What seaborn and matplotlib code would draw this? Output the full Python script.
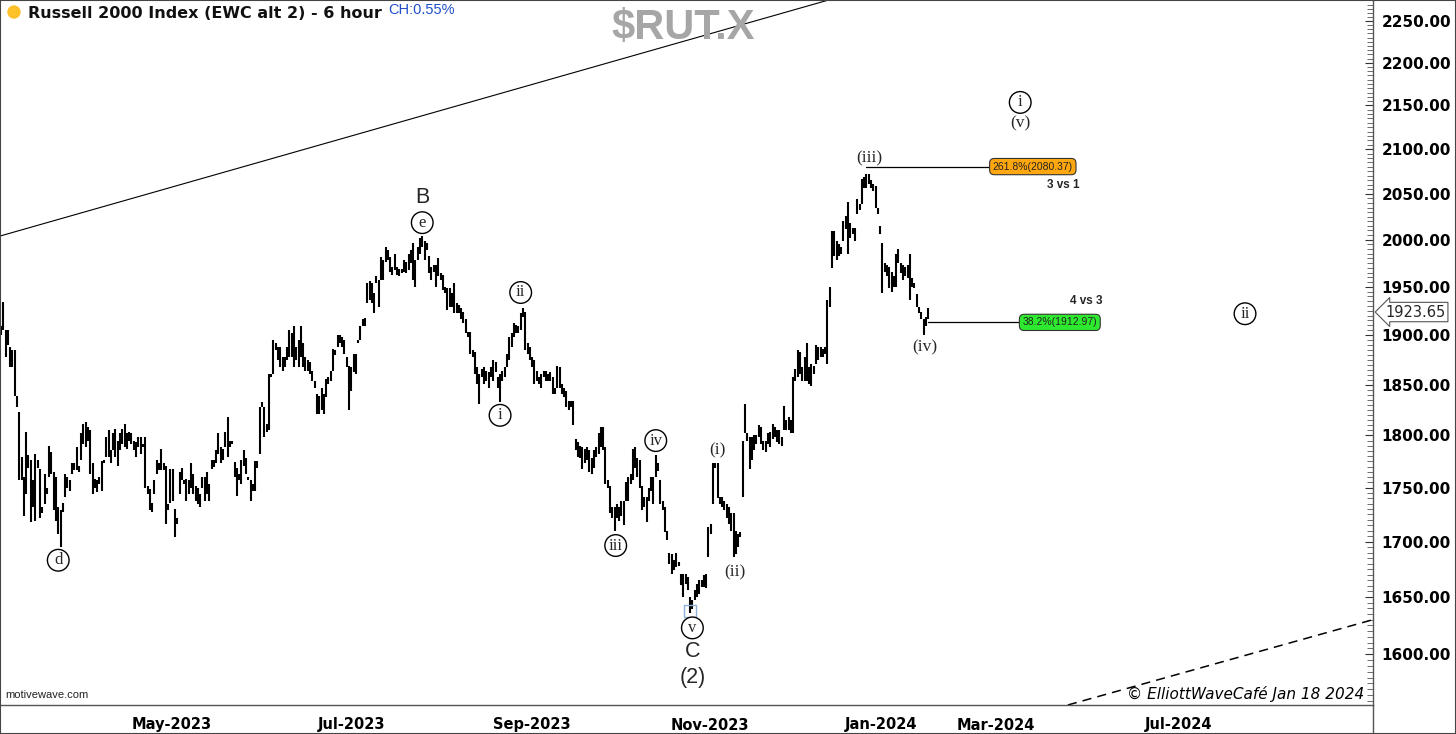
import numpy as np
import pandas as pd
import matplotlib
matplotlib.use("Agg")
import matplotlib.pyplot as plt
import matplotlib.ticker as mticker
from matplotlib.patches import Rectangle, Ellipse
import seaborn as sns

sns.set_theme(style="white")
plt.rcParams['font.family'] = ['DejaVu Sans']

# 6 hour bars (high / low), oldest first
highs = [
    # Mar - Jun 2023
    1909, 1934, 1905, 1905, 1888, 1885, 1885, 1839, 1823, 1779,
    1760, 1803, 1781, 1776, 1757, 1782, 1776, 1768, 1732, 1763,
    1750, 1790, 1784, 1765, 1760, 1732, 1729, 1736, 1763, 1760,
    1757, 1773, 1773, 1789, 1771, 1802, 1811, 1813, 1808, 1805,
    1773, 1758, 1757, 1760, 1775, 1776, 1798, 1805, 1786, 1802,
    1806, 1795, 1802, 1806, 1811, 1802, 1803, 1802, 1795, 1794,
    1798, 1798, 1792, 1798, 1752, 1749, 1736, 1757, 1776, 1773,
    1787, 1773, 1771, 1735, 1768, 1768, 1730, 1722, 1765, 1769,
    1757, 1758, 1757, 1773, 1763, 1752, 1750, 1744, 1760, 1760,
    1765, 1754, 1776, 1776, 1786, 1802, 1789, 1787, 1803, 1818,
    1795, 1795, 1774, 1769, 1763, 1776, 1786, 1778, 1760, 1757,
    1754, 1775, 1775, 1828, 1833, 1828, 1811, 1861, 1861, 1895,
    1892, 1888, 1888, 1878, 1878, 1888, 1905,
    # Jun - Sep 2023
    1902, 1909, 1888, 1895, 1909, 1892, 1878, 1875, 1873, 1864,
    1854, 1841, 1839, 1847, 1841, 1856, 1858, 1864, 1886, 1885,
    1900, 1900, 1898, 1895, 1878, 1869, 1868, 1881, 1881, 1895,
    1909, 1916, 1918, 1954, 1956, 1954, 1943, 1961, 1957, 1982,
    1978, 1992, 1989, 1982, 1971, 1985, 1971, 1969, 1969, 1978,
    1976, 1985, 1989, 1996, 1978, 1992, 2002, 2004, 1999, 1997,
    1983, 1971, 1973, 1973, 1980, 1964, 1962, 1950, 1949, 1949,
    1943, 1954, 1933, 1931, 1928, 1924, 1916, 1903, 1903, 1885,
    1883, 1868, 1861, 1866, 1868, 1864, 1863, 1868, 1875, 1873,
    1858, 1861, 1864, 1868, 1881, 1898, 1902, 1912, 1910, 1909,
    1923, 1928, 1924, 1892, 1888, 1878, 1875, 1864, 1858, 1861,
    1864, 1864, 1861, 1863, 1858, 1847, 1869, 1868, 1851, 1847,
    1844, 1834,
    # Sep - Nov 2023
    1834, 1834, 1797, 1794, 1790, 1789, 1787, 1789, 1786, 1778,
    1786, 1789, 1802, 1808, 1808, 1789, 1757, 1752, 1732, 1732,
    1735, 1732, 1738, 1738, 1755, 1760, 1763, 1787, 1789, 1778,
    1776, 1752, 1741, 1741, 1750, 1760, 1760, 1781, 1773, 1757,
    1738, 1732, 1710, 1690, 1689, 1683, 1690, 1681, 1671, 1671,
    1671, 1668, 1650, 1647, 1656, 1662, 1665, 1665, 1670, 1671,
    1713, 1716, 1773, 1773, 1773, 1741, 1741, 1738, 1735, 1732,
    1726, 1726, 1710, 1707, 1709,
    # Nov - Dec 2023
    1795, 1831, 1802, 1798, 1798, 1800, 1800, 1810, 1808, 1795,
    1795, 1802, 1803, 1811, 1808, 1805, 1805, 1798, 1829, 1815,
    1818, 1815, 1858, 1866, 1885, 1883, 1868, 1878, 1892, 1868,
    1871, 1869, 1890, 1888, 1888, 1886, 1888, 1936, 1950,
    # Dec 2023 - Jan 2024
    2009, 2009, 1999, 1995, 1992, 2020, 2026, 2041, 2018, 2013,
    2013, 2044, 2039, 2067, 2069, 2072, 2072, 2065, 2061, 2059,
    2035, 2015, 1996, 1975, 1973, 1971, 1966, 1961, 1985, 1990,
    1975, 1973, 1971, 1973, 1985, 1959, 1954, 1942, 1929, 1924,
    1916, 1919, 1928,
]
lows = [
    1900, 1905, 1878, 1890, 1868, 1868, 1839, 1828, 1757, 1757,
    1724, 1744, 1769, 1718, 1732, 1719, 1769, 1722, 1726, 1735,
    1744, 1760, 1763, 1729, 1719, 1707, 1695, 1727, 1741, 1750,
    1747, 1763, 1767, 1767, 1765, 1776, 1792, 1789, 1795, 1763,
    1744, 1750, 1746, 1754, 1747, 1773, 1779, 1779, 1773, 1786,
    1779, 1771, 1786, 1792, 1789, 1787, 1795, 1792, 1786, 1779,
    1789, 1782, 1789, 1750, 1744, 1729, 1727, 1744, 1763, 1767,
    1767, 1767, 1716, 1729, 1736, 1738, 1704, 1716, 1744, 1757,
    1754, 1738, 1744, 1750, 1744, 1738, 1735, 1732, 1750, 1738,
    1744, 1738, 1768, 1770, 1773, 1782, 1773, 1776, 1789, 1779,
    1789, 1792, 1760, 1742, 1757, 1754, 1771, 1763, 1757, 1738,
    1747, 1747, 1769, 1782, 1828, 1798, 1803, 1805, 1858, 1861,
    1885, 1875, 1868, 1864, 1868, 1875, 1878,
    1878, 1868, 1875, 1868, 1878, 1868, 1864, 1864, 1861, 1854,
    1847, 1821, 1821, 1825, 1821, 1838, 1851, 1854, 1864, 1880,
    1888, 1892, 1888, 1881, 1868, 1825, 1844, 1863, 1861, 1892,
    1895, 1909, 1909, 1933, 1936, 1933, 1923, 1954, 1929, 1957,
    1957, 1976, 1978, 1966, 1962, 1968, 1962, 1961, 1964, 1966,
    1964, 1968, 1975, 1957, 1950, 1978, 1985, 1992, 1978, 1989,
    1964, 1957, 1966, 1950, 1961, 1957, 1947, 1943, 1926, 1929,
    1929, 1923, 1923, 1923, 1916, 1912, 1902, 1898, 1881, 1878,
    1861, 1851, 1831, 1858, 1851, 1854, 1847, 1858, 1854, 1863,
    1847, 1833, 1854, 1858, 1868, 1875, 1888, 1898, 1902, 1902,
    1905, 1919, 1885, 1881, 1875, 1868, 1851, 1854, 1851, 1847,
    1858, 1854, 1854, 1854, 1841, 1841, 1847, 1847, 1841, 1838,
    1828, 1825,
    1828, 1810, 1786, 1779, 1778, 1768, 1773, 1776, 1765, 1763,
    1769, 1779, 1782, 1789, 1786, 1754, 1750, 1726, 1722, 1710,
    1722, 1719, 1724, 1715, 1738, 1738, 1754, 1757, 1769, 1760,
    1750, 1729, 1732, 1718, 1738, 1747, 1735, 1760, 1766, 1735,
    1729, 1709, 1701, 1680, 1671, 1674, 1677, 1678, 1661, 1650,
    1662, 1656, 1636, 1639, 1647, 1650, 1653, 1659, 1659, 1658,
    1686, 1707, 1735, 1769, 1740, 1735, 1732, 1729, 1722, 1716,
    1710, 1686, 1689, 1695, 1704,
    1741, 1802, 1795, 1768, 1776, 1786, 1792, 1798, 1792, 1786,
    1784, 1792, 1789, 1797, 1798, 1794, 1792, 1790, 1805, 1805,
    1805, 1802, 1802, 1854, 1858, 1861, 1854, 1854, 1854, 1851,
    1849, 1861, 1871, 1875, 1878, 1878, 1881, 1871, 1929,
    1970, 1983, 1978, 1983, 1985, 1999, 2012, 1985, 2002, 2006,
    1999, 2028, 2032, 2039, 2057, 2057, 2061, 2057, 2053, 2035,
    2028, 2006, 1943, 1966, 1961, 1949, 1945, 1950, 1950, 1975,
    1964, 1957, 1961, 1959, 1936, 1950, 1949, 1929, 1923, 1916,
    1900, 1909, 1916,
]
last_close = 1923.65

month_labels = ["May-2023", "Jul-2023", "Sep-2023", "Nov-2023",
                "Jan-2024", "Mar-2024", "Jul-2024", ""]
month_bars = [74.7, 153.3, 231.9, 309.6, 384.3, 434.5, 514.4, 574.2]

fib_levels = [2080.37, 1912.97]
fib_texts = ["261.8%(2080.37)", "38.2%(1912.97)"]
fib_notes = ["3 vs 1", "4 vs 3"]
fib_colors = ["#FFA70F", "#2EEA2E"]

bars = pd.DataFrame({"bar": np.arange(len(highs)), "high": highs, "low": lows})

fig = plt.figure(figsize=(14.56, 7.34), dpi=100)
ax = fig.add_axes([0, 29 / 734, 1373 / 1456, 705 / 734])
ax.set_facecolor("white")

# trend channel lines
sns.lineplot(x=[-0.44, 362], y=[2004, 2276], ax=ax, color="black", lw=0.8)
sns.lineplot(x=[466, 599.3], y=[1556.8, 1630], ax=ax, color="black", lw=1.1,
             linestyle=(0, (6, 4)))

# price bars
ax.vlines(bars["bar"], bars["low"], bars["high"], color="black", lw=1.5)

# low highlight
lo_bar = bars["low"].idxmin()
ax.plot([lo_bar], [bars["low"].min() + 2], marker="s", ms=9, mfc="none",
        mec="#8fb0d6", mew=1.0)

# fibonacci targets
hi_bar = bars["high"].idxmax()
fib_start = [hi_bar, len(bars) - 1]
fib_box = [432, 445]
for lvl, txt, col, x0, xb in zip(fib_levels, fib_texts, fib_colors,
                                 fib_start, fib_box):
    ax.plot([x0, xb], [lvl, lvl], color="black", lw=0.9)
    ax.text(xb + 1.2, lvl, txt, ha="left", va="center", fontsize=7.5,
            family="Liberation Sans", color="#222",
            bbox=dict(boxstyle="round,pad=0.3,rounding_size=0.45",
                      fc=col, ec="#333", lw=0.8))
ax.text(471.3, 2060, fib_notes[0], ha="right", va="center", fontsize=8.5,
        fontweight="bold", family="Liberation Sans")
ax.text(481.3, 1935.4, fib_notes[1], ha="right", va="center", fontsize=8.5,
        fontweight="bold", family="Liberation Sans")

# wave labels, placed at the bars they mark
circled = [("d", 25, 1683), ("e", 184, 2018.5), ("ii", 227, 1944),
           ("i", 218, 1819.6), ("iv", 286, 1795), ("iii", 268.5, 1696.4),
           ("v", 302, 1622.8), ("i", 445.2, 2153.5), ("ii", 543.4, 1921.9)]
for s, x, y in circled:
    ax.text(x, y, s, ha="center", va="center", fontsize=12,
            family="Liberation Serif",
            bbox=dict(boxstyle="circle,pad=0.17", fc="white", ec="black", lw=1))
paren = [("(i)", 313, 1785.6), ("(ii)", 320.5, 1672.3),
         ("(iii)", 379.5, 2089.8), ("(iv)", 403.5, 1887.8),
         ("(v)", 445.2, 2129.5)]
for s, x, y in paren:
    ax.text(x, y, s, ha="center", va="center", fontsize=12.5,
            family="Liberation Serif")
for s, x, y in [("B", 184, 2046), ("C", 302, 1602.6), ("(2)", 302, 1580.4)]:
    ax.text(x, y, s, ha="center", va="center", fontsize=15.5,
            family="Liberation Sans")

# axes
ax.set_yscale("log")
ax.set_ylim(1556.8, 2275.6)
ax.set_xlim(-0.44, 599.3)
ax.yaxis.tick_right()
ax.yaxis.set_major_locator(mticker.FixedLocator(np.arange(1600, 2251, 50)))
ax.yaxis.set_minor_locator(mticker.FixedLocator(np.arange(1560, 2276, 5)))
ax.yaxis.set_major_formatter(mticker.FormatStrFormatter("%.2f"))
ax.yaxis.set_minor_formatter(mticker.NullFormatter())
ax.tick_params(axis="y", which="major", direction="in", length=6, width=0.8,
               pad=6, labelsize=11, colors="#333", labelcolor="black")
ax.tick_params(axis="y", which="minor", direction="in", length=4, width=0.6,
               colors="#555")
for lab in ax.get_yticklabels():
    lab.set_fontweight("bold")
ax.set_xticks(month_bars)
ax.set_xticklabels(month_labels, fontsize=10.5, fontweight="bold")
ax.tick_params(axis="x", direction="out", length=6, width=0.8, pad=3,
               colors="#444", labelcolor="black")
for sp in ["left", "top"]:
    ax.spines[sp].set_visible(False)
for sp in ["right", "bottom"]:
    ax.spines[sp].set_color("#555")
    ax.spines[sp].set_linewidth(1)

# last price tag
ax.annotate(f"{last_close:.2f}", xy=(1.0, last_close),
            xycoords=("axes fraction", "data"), xytext=(9, 0),
            textcoords="offset points", ha="left", va="center", fontsize=10.5,
            bbox=dict(boxstyle="larrow,pad=0.15", fc="white", ec="#555", lw=0.8),
            annotation_clip=False)

# headers and credits
fig.add_artist(Ellipse((14 / 1456, 1 - 12 / 734), 12 / 1456, 12 / 734,
                       transform=fig.transFigure, color="#FDC12A"))
fig.text(28 / 1456, 1 - 14 / 734, "Russell 2000 Index (EWC alt 2) - 6 hour",
         fontsize=11.5, fontweight="bold", va="center", ha="left", color="#111")
fig.text(388 / 1456, 1 - 10 / 734, "CH:0.55%", fontsize=10.5,
         family="Liberation Sans", color="#1f4fc9", va="center", ha="left")
fig.text(683 / 1456, 1 - 28 / 734, "$RUT.X", fontsize=30, fontweight="bold",
         family="Liberation Sans", color="#a6a6a6", va="center", ha="center")
ax.text(5 / 1373, 10 / 705, "motivewave.com", transform=ax.transAxes,
        fontsize=8, family="Liberation Sans", color="#222", va="center")
ax.text(1364 / 1373, 11 / 705, "\u00a9 ElliottWaveCaf\u00e9 Jan 18 2024",
        transform=ax.transAxes, fontsize=11, style="italic", color="black",
        ha="right", va="center")

fig.add_artist(plt.Line2D([1373 / 1456, 1373 / 1456], [0, 29 / 734],
                          transform=fig.transFigure, color="#555", lw=1))
fig.add_artist(Rectangle((0, 0), 1, 1, transform=fig.transFigure, fill=False,
                         ec="#444", lw=1.5))

fig.savefig("out.png", dpi=100, facecolor="white")
